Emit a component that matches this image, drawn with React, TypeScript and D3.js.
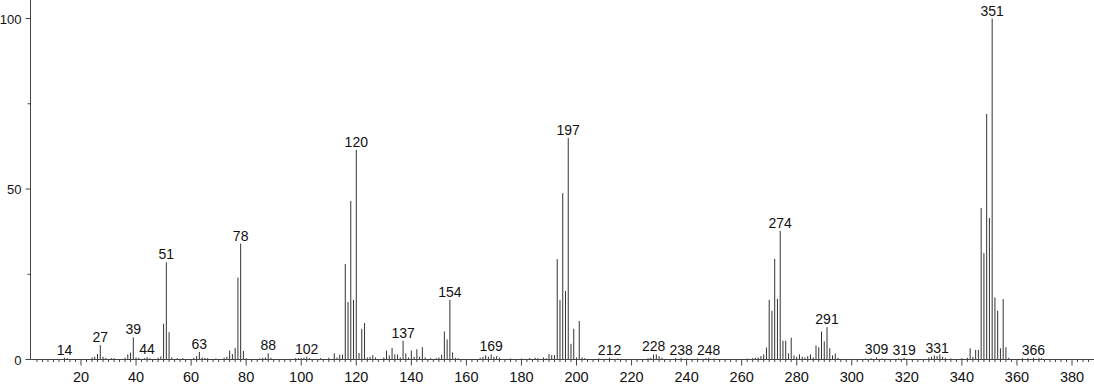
import React from "react";
import * as d3 from "d3";

const mzValues: number[] = [
  14, 15, 24, 25, 26, 27, 28, 29, 31, 32, 36, 37, 38, 39, 40, 41, 43, 44, 45,
  48, 49, 50, 51, 52, 53, 55, 57, 61, 62, 63, 64, 65, 66, 69,
  72, 73, 74, 75, 76, 77, 78, 79, 80, 85, 86, 87, 88, 89,
  98, 99, 100, 101, 102, 103, 107, 110, 112, 113, 114, 115, 116, 117, 118, 119, 120, 121, 122, 123, 124, 125, 126, 127,
  130, 131, 132, 133, 134, 135, 136, 137, 138, 139, 140, 141, 142, 143, 144, 145,
  147, 149, 150, 151, 152, 153, 154, 155, 156, 157,
  165, 166, 167, 168, 169, 170, 171, 172, 176, 180, 183, 185, 186, 188, 189,
  190, 191, 192, 193, 194, 195, 196, 197, 198, 199, 200, 201, 202, 203,
  208, 212, 215, 226, 227, 228, 229, 230, 231, 236, 238, 240, 244, 247, 248, 250,
  262, 264, 265, 266, 267, 268, 269, 270, 271, 272, 273, 274, 275, 276, 277, 278, 279, 280,
  281, 282, 283, 284, 285, 286, 287, 288, 289, 290, 291, 292, 293, 294, 295,
  305, 307, 309, 311, 317, 319, 328, 329, 330, 331, 332, 333, 334, 336,
  340, 342, 343, 344, 345, 346, 347, 348, 349, 350, 351, 352, 353, 354, 355, 356, 357,
  362, 364, 366, 368, 369,
];

const intensities: number[] = [
  0.5, 0.4, 0.6, 0.8, 1.6, 4.2, 0.8, 0.5, 0.4, 0.4, 0.5, 1.5, 2.0, 6.5, 0.6, 0.5, 0.4, 0.7, 0.4,
  0.5, 0.9, 10.5, 28.5, 8.0, 0.6, 0.4, 0.4, 0.5, 1.0, 2.2, 0.6, 0.5, 0.4, 0.3,
  0.5, 0.8, 2.6, 1.6, 3.4, 24, 34, 2.5, 0.4, 0.3, 0.5, 0.6, 1.8, 0.5,
  0.4, 0.4, 0.4, 0.5, 0.8, 0.4, 0.4, 0.5, 1.8, 0.6, 1.4, 1.4, 28, 16.9, 46.5, 17.5, 61.5, 1.9, 9, 10.7, 0.6, 0.8, 1.3, 0.6,
  0.6, 2.6, 1.2, 3.4, 1.5, 1.5, 0.6, 5.5, 1.8, 0.6, 2.6, 0.8, 3.0, 0.8, 3.6, 0.6,
  0.4, 0.4, 0.6, 1.4, 8.2, 5.9, 17.5, 2.1, 0.5, 0.4,
  0.5, 0.8, 1.2, 0.8, 1.5, 0.8, 1.0, 0.5, 0.3, 0.3, 0.4, 0.5, 0.4, 0.6, 0.4,
  1.6, 1.3, 1.3, 29.4, 17.5, 48.8, 20.1, 65, 4.6, 9, 0.6, 11.3, 0.6, 0.4,
  0.3, 0.5, 0.3, 0.4, 0.5, 1.5, 1.5, 1.0, 0.5, 0.4, 0.5, 0.3, 0.3, 0.4, 0.5, 0.3,
  0.3, 0.4, 0.5, 0.6, 1.0, 1.5, 3.5, 17.5, 14.3, 29.5, 17.8, 37.7, 5.5, 5.5, 1.8, 6.4, 1.2, 0.8,
  1.5, 0.8, 0.6, 1.0, 1.5, 0.6, 4.1, 3.6, 8.2, 5.3, 9.5, 3.3, 1.2, 1.8, 0.5,
  0.3, 0.4, 0.6, 0.3, 0.3, 0.5, 0.6, 0.8, 1.2, 1.0, 1.5, 0.8, 0.5, 0.3,
  0.4, 0.5, 3.3, 0.8, 2.8, 2.8, 44.4, 31.2, 72, 41.5, 100, 18.2, 14.3, 3.3, 17.7, 3.6, 0.5,
  0.4, 0.4, 0.5, 0.5, 0.4,
];

const labeledPeaks: number[] = [
  14, 27, 39, 44, 51, 63, 78, 88, 102, 120, 137, 154, 169, 197, 212, 228, 238, 248,
  274, 291, 309, 319, 331, 351, 366,
];

const xTickValues: number[] = [20, 40, 60, 80, 100, 120, 140, 160, 180, 200, 220, 240, 260, 280, 300, 320, 340, 360, 380];
const yTickValues: number[] = [0, 50, 100];
const yMinorTickValues: number[] = [25, 75];

const W = 1094;
const H = 384;
const FONT = "'Liberation Sans', Arial, sans-serif";

export default function App() {
  const x = d3.scaleLinear().domain([20, 380]).range([81, 1072]);
  const y = d3.scaleLinear().domain([0, 100]).range([359.5, 18.5]);
  const axisX = 30.5;
  const axisY = y(0);
  const peaks = mzValues.map((m, i) => ({ m, v: intensities[i] }));
  const peakMap = new Map(peaks.map((p) => [p.m, p.v]));
  const minorX = d3.range(2, 388, 2).filter((v) => v % 20 !== 0 && x(v) > axisX + 1 && x(v) < W - 1);

  return (
    <svg
      width={W}
      height={H}
      style={{ position: "absolute", left: 0, top: 0, background: "#fff" }}
      fontFamily={FONT}
    >
      <rect x={0} y={0} width={W} height={H} fill="#fff" />
      {/* peaks */}
      {peaks.map((p) => (
        <line
          key={p.m}
          x1={x(p.m)}
          x2={x(p.m)}
          y1={axisY}
          y2={y(p.v)}
          stroke="#333"
          strokeWidth={1}
        />
      ))}
      {/* axes */}
      <line x1={axisX} x2={axisX} y1={0} y2={axisY} stroke="#444" strokeWidth={1} />
      <line x1={axisX} x2={W} y1={axisY} y2={axisY} stroke="#444" strokeWidth={1} />
      {yTickValues.map((t) => (
        <g key={"yt" + t}>
          <line x1={axisX - 5} x2={axisX} y1={y(t)} y2={y(t)} stroke="#444" />
          <text x={axisX - 9} y={y(t) + 5} textAnchor="end" fontSize={13} fill="#111">
            {t}
          </text>
        </g>
      ))}
      {yMinorTickValues.map((t) => (
        <line key={"ym" + t} x1={axisX - 3} x2={axisX} y1={y(t)} y2={y(t)} stroke="#444" />
      ))}
      {minorX.map((t) => (
        <line key={"xm" + t} x1={x(t)} x2={x(t)} y1={axisY} y2={axisY + 2.5} stroke="#444" />
      ))}
      {xTickValues.map((t) => (
        <g key={"xt" + t}>
          <line x1={x(t)} x2={x(t)} y1={axisY} y2={axisY + 6} stroke="#444" />
          <text x={x(t)} y={382} textAnchor="middle" fontSize={14.5} fill="#111">
            {t}
          </text>
        </g>
      ))}
      {/* peak labels */}
      {labeledPeaks.map((m) => (
        <text
          key={"pl" + m}
          x={x(m)}
          y={y(peakMap.get(m) ?? 0) - 3}
          textAnchor="middle"
          fontSize={14}
          fill="#111"
        >
          {m}
        </text>
      ))}
    </svg>
  );
}
